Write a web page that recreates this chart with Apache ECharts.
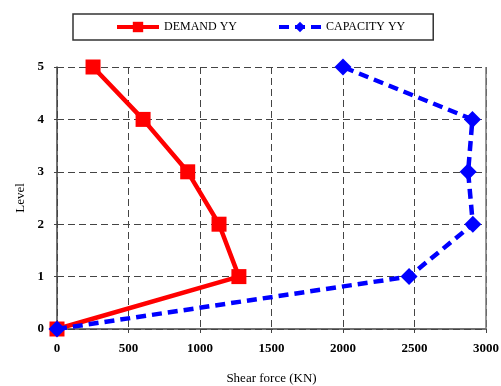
<!DOCTYPE html>
<html>
<head>
<meta charset="utf-8">
<script src="https://cdn.jsdelivr.net/npm/echarts@6/dist/echarts.min.js"></script>
<style>
  html, body { margin: 0; padding: 0; background: #fff; }
  #chart { width: 501px; height: 386px; }
</style>
</head>
<body>
<div id="chart"></div>
<script>
var levels = [0, 1, 2, 3, 4, 5];
var demandYY = [0, 1272, 1133, 914, 602, 252];
var capacityYY = [0, 2462, 2908, 2875, 2905, 2000];
var xTicks = [0, 500, 1000, 1500, 2000, 2500, 3000];

var FONT = "Liberation Serif";

function pairs(values) {
    return values.map(function (v, i) {
        return [v, levels[i]];
    });
}

var myChart = echarts.init(document.getElementById("chart"));
var option = {
    animation: false,
    backgroundColor: "#fff",
    textStyle: { fontFamily: FONT },
    legend: {
        top: 14,
        left: 73,
        padding: [7, 28, 7, 42],
        borderColor: "#333",
        borderWidth: 1.5,
        borderRadius: 0,
        itemGap: 40,
        itemWidth: 42,
        itemHeight: 13,
        lineStyle: { width: 4 },
        textStyle: { fontFamily: FONT, fontSize: 12, color: "#000" },
        data: ["DEMAND YY", "CAPACITY YY"],
    },
    grid: { left: 57, right: 15, top: 67, bottom: 57, outerBoundsMode: "none" },
    xAxis: {
        type: "value",
        min: 0,
        max: 3000,
        interval: 500,
        name: "Shear force (KN)",
        nameLocation: "middle",
        nameGap: 43,
        nameTextStyle: { fontFamily: FONT, fontSize: 13, color: "#000" },
        axisLine: { lineStyle: { color: "#444", width: 1.5 } },
        axisTick: { show: true, inside: false, length: 4, lineStyle: { color: "#444" } },
        axisLabel: {
            fontFamily: FONT, fontSize: 13, fontWeight: "bold", color: "#000", margin: 13,
            formatter: function (v) { return xTicks.indexOf(v) >= 0 ? String(v) : ""; },
        },
        splitLine: { show: true, lineStyle: { color: "#444", type: [7, 4], width: 1 } },
    },
    yAxis: {
        type: "value",
        min: 0,
        max: 5,
        interval: 1,
        name: "Level",
        nameLocation: "middle",
        nameGap: 30,
        nameRotate: 90,
        nameTextStyle: { fontFamily: FONT, fontSize: 13, color: "#000" },
        axisLine: { show: true, lineStyle: { color: "#444", width: 1.5 } },
        axisTick: { show: true, inside: false, length: 3, lineStyle: { color: "#444" } },
        axisLabel: { fontFamily: FONT, fontSize: 13, fontWeight: "bold", color: "#000", margin: 13 },
        splitLine: { show: true, lineStyle: { color: "#444", type: [7, 4], width: 1 } },
    },
    series: [
        {
            name: "DEMAND YY",
            type: "line",
            data: pairs(demandYY),
            color: "#ff0000",
            symbol: "rect",
            symbolSize: 15,
            lineStyle: { width: 4.5, color: "#ff0000" },
            itemStyle: { color: "#ff0000" },
            z: 2,
        },
        {
            name: "CAPACITY YY",
            type: "line",
            data: pairs(capacityYY),
            color: "#0000ff",
            symbol: "diamond",
            symbolSize: 17,
            lineStyle: { width: 4.5, color: "#0000ff", type: [10, 6] },
            itemStyle: { color: "#0000ff" },
            z: 3,
        },
        {
            // right frame line
            type: "line",
            data: [[3000, 0], [3000, 5]],
            symbol: "none",
            silent: true,
            lineStyle: { color: "#777", width: 1.5 },
            z: 1,
        },
    ],
};
myChart.setOption(option, true);
</script>
</body>
</html>
